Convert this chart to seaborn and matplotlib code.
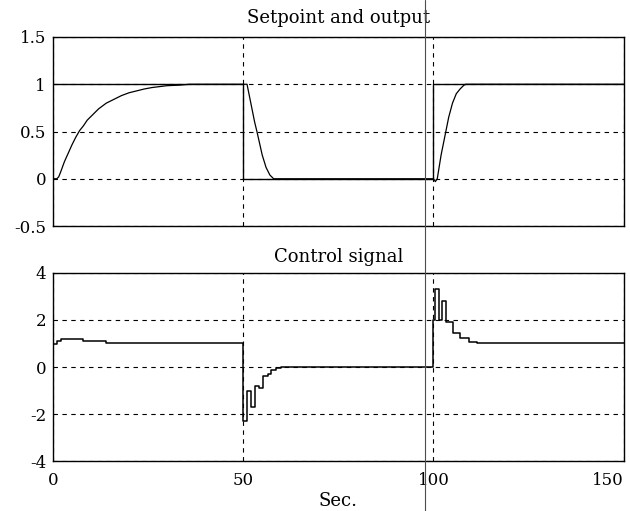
import pandas as pd
import seaborn as sns
import matplotlib.pyplot as plt
from matplotlib.lines import Line2D

# Setpoint (square wave, held between change points)
setpoint_t = [0, 50, 100, 150]
setpoint_v = [1, 0, 1, 1]

# Process output
output_t = [0, 1, 1.5, 2, 3, 4, 5, 6, 7, 8, 9, 10, 12, 14, 16, 18, 20, 22, 24, 26, 28, 30, 33, 36,
            50, 51, 52, 53, 53.6, 55, 56, 57, 58,
            100, 100.5, 101, 102, 103, 104, 105, 106, 107, 108, 108.5, 150]
output_v = [0, 0, 0.02, 0.07, 0.18, 0.27, 0.36, 0.44, 0.51, 0.56, 0.62, 0.66, 0.74, 0.80, 0.84, 0.88, 0.91, 0.93, 0.95, 0.965, 0.975, 0.985, 0.99, 1.0,
            1.0, 1.0, 0.8, 0.6, 0.5, 0.25, 0.12, 0.04, 0.0,
            0.0, -0.03, 0.0, 0.25, 0.45, 0.65, 0.8, 0.9, 0.95, 0.99, 1.0, 1.0]

# Control signal (zero-order hold)
control_t = [0, 1, 2, 8, 14, 50, 51, 52, 53, 54.2, 55.3, 56.5, 57.2, 58.5, 60,
             100, 100.5, 101.4, 102.3, 103.2, 105.2, 107.1, 109.3, 111.5, 112.8, 150]
control_v = [0.98, 1.1, 1.18, 1.1, 1.03, -2.3, -1.0, -1.7, -0.8, -0.88, -0.38, -0.3, -0.12, -0.05, 0.0,
             2.0, 3.3, 2.0, 2.8, 1.93, 1.46, 1.22, 1.06, 1.01, 1.03, 1.03]

x_ticks = [0, 50, 100, 150]
x_labels = ["0", "50", "100", "150"]
top_yticks = [-0.5, 0, 0.5, 1, 1.5]
top_ylabels = ["-0.5", "0", "0.5", "1", "1.5"]
bot_yticks = [-4, -2, 0, 2, 4]
bot_ylabels = ["-4", "-2", "0", "2", "4"]

sp = pd.DataFrame({"t": setpoint_t, "v": setpoint_v})
out = pd.DataFrame({"t": output_t, "v": output_v})
ctl = pd.DataFrame({"t": control_t, "v": control_v})

sns.set_theme(style="white")
plt.rcParams["font.family"] = ["DejaVu Serif"]
plt.rcParams["font.size"] = 12
plt.rcParams["text.color"] = "black"
plt.rcParams["axes.labelcolor"] = "black"

fig = plt.figure(figsize=(6.3, 5.11), dpi=100)
ax1 = fig.add_axes([0.0841, 0.5577, 0.9059, 0.3699])
ax2 = fig.add_axes([0.0841, 0.0978, 0.9059, 0.3680])

dash = (0, (4, 4))

# Top: setpoint and output
sns.lineplot(data=sp, x="t", y="v", ax=ax1, color="black", lw=1.0,
             drawstyle="steps-post", estimator=None)
sns.lineplot(data=out, x="t", y="v", ax=ax1, color="black", lw=0.9, estimator=None)
ax1.set_xlim(0, 150)
ax1.set_ylim(-0.5, 1.5)
ax1.set_yticks(top_yticks)
ax1.set_yticklabels(top_ylabels)
ax1.set_xticks(x_ticks)
ax1.set_xticklabels([])
ax1.set_xlabel("")
ax1.set_ylabel("")
ax1.set_title("Setpoint and output", fontsize=13, pad=10, color="black")

# Bottom: control signal
sns.lineplot(data=ctl, x="t", y="v", ax=ax2, color="black", lw=1.1,
             drawstyle="steps-post", estimator=None)
ax2.set_xlim(0, 150)
ax2.set_ylim(-4, 4)
ax2.set_yticks(bot_yticks)
ax2.set_yticklabels(bot_ylabels)
ax2.set_xticks(x_ticks)
ax2.set_xticklabels(x_labels)
ax2.get_xticklabels()[-1].set_horizontalalignment("right")
ax2.set_xlabel("Sec.", labelpad=2, fontsize=13, color="black")
ax2.set_ylabel("")
ax2.set_title("Control signal", fontsize=13, pad=8, color="black")

for ax in (ax1, ax2):
    ax.grid(True, color="black", linestyle=dash, lw=0.8)
    ax.tick_params(length=0, pad=5, labelsize=12, colors="black")
    for s in ax.spines.values():
        s.set_color("black")
        s.set_linewidth(1.0)

ax2.tick_params(axis="x", pad=8)

# thin vertical scan line crossing the whole page
fig.add_artist(Line2D([425 / 630, 425 / 630], [0, 1], transform=fig.transFigure,
                      color="0.3", lw=0.8))

fig.savefig("out.png", dpi=100)
